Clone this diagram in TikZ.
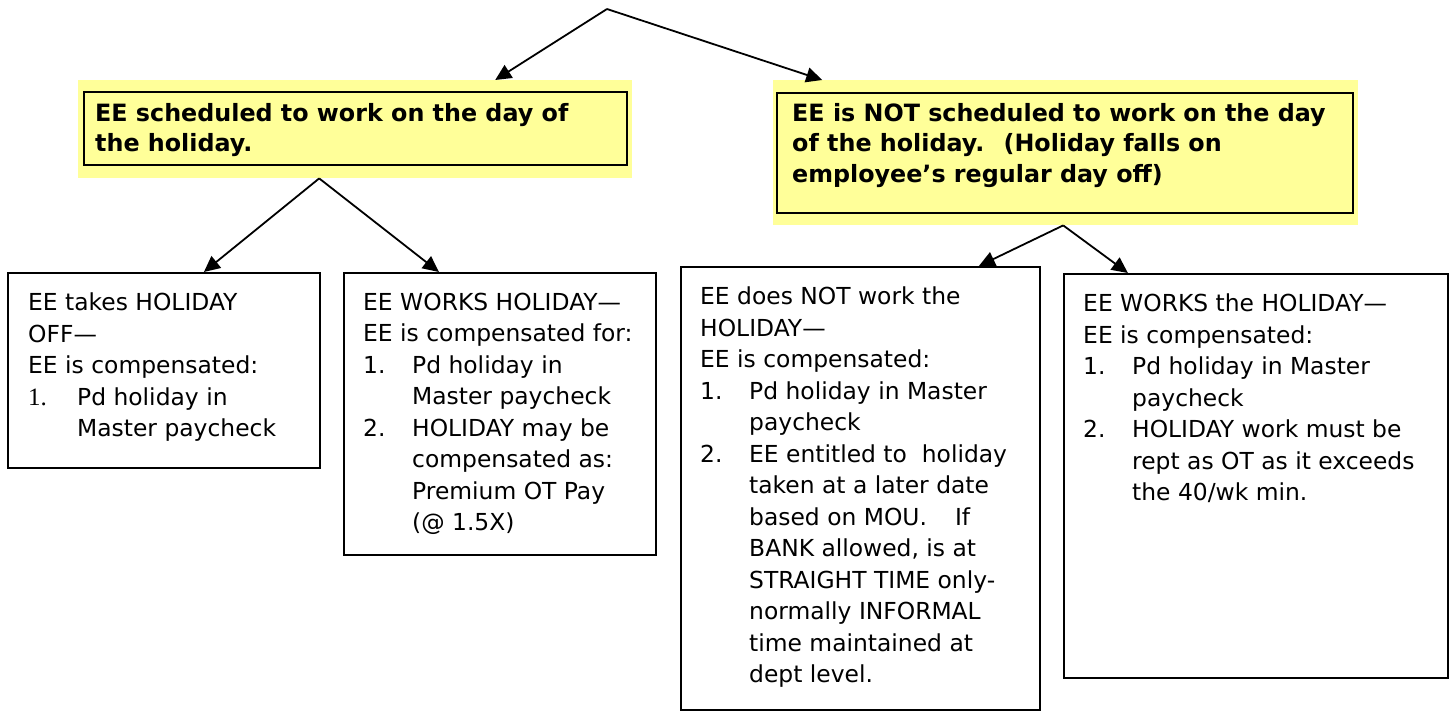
\documentclass[tikz,border=0pt]{standalone}
\usepackage{fontspec}
\setmainfont{DejaVu Sans}
\newfontfamily\numserif{Liberation Serif}
\usetikzlibrary{arrows.meta}
\definecolor{hlyellow}{HTML}{FFFF99}
\newcommand\hitem[1]{\makebox[49pt][l]{#1}}
\newcommand\hcont{\hspace*{49pt}}
\tikzset{
	hl/.style={fill=hlyellow, inner sep=0pt, anchor=north west},
	box/.style={draw, line width=1.8pt, inner sep=0pt, anchor=north west},
	boxtext/.style={anchor=north west, inner sep=0pt, align=left, font=\fontsize{23.4}{31.5}\selectfont},
	hltext/.style={anchor=north west, inner sep=0pt, align=left, font=\fontsize{23.8}{30.5}\selectfont\bfseries},
	arr/.style={line width=1.8pt, -{Triangle[length=16pt,width=15pt]}}
}

\begin{document}
\begin{tikzpicture}[x=1pt,y=1pt]
	\useasboundingbox (0,0) rectangle (1450,-710);
	\coordinate (top) at (607,-9);

	% scheduled / not scheduled
	\node[hl, minimum width=554pt, minimum height=98pt] (sched) at (78,-80) {};
	\draw[line width=2pt] ([shift={(6pt,-12pt)}]sched.north west) rectangle ([shift={(-5pt,13pt)}]sched.south east);
	\node[hltext] (schedtext) at ([shift={(17pt,-23pt)}]sched.north west)
		{EE scheduled to work on the day of\\the holiday.};

	\node[hl, minimum width=585pt, minimum height=145pt] (nosched) at (773,-80) {};
	\draw[line width=2pt] ([shift={(4pt,-13pt)}]nosched.north west) rectangle ([shift={(-5pt,12pt)}]nosched.south east);
	\node[hltext] (noschedtext) at ([shift={(19pt,-23pt)}]nosched.north west)
		{EE is NOT scheduled to work on the day\\of the holiday.~ (Holiday falls on\\employee’s regular day off)};

	% outcomes
	\node[box, minimum width=312pt, minimum height=195pt] (takeoff) at (7,-272) {};
	\node[boxtext] (takeofftext) at ([shift={(21pt,-20.7pt)}]takeoff.north west)
		{EE takes HOLIDAY\\OFF—\\EE is compensated:\\
		\hitem{{\numserif\fontsize{25}{31.5}\selectfont 1.}}Pd holiday in\\\hcont Master paycheck};

	\node[box, minimum width=312pt, minimum height=282pt] (workson) at (343,-272) {};
	\node[boxtext] (worksontext) at ([shift={(20pt,-20.7pt)}]workson.north west)
		{EE WORKS HOLIDAY—\\EE is compensated for:\\
		\hitem{1.}Pd holiday in\\\hcont Master paycheck\\
		\hitem{2.}HOLIDAY may be\\\hcont compensated as:\\
		\hcont Premium OT Pay\\\hcont (@ 1.5X)};

	\node[box, minimum width=359pt, minimum height=443pt] (notwork) at (680,-266) {};
	\node[boxtext] (notworktext) at ([shift={(20pt,-20.7pt)}]notwork.north west)
		{EE does NOT work the\\HOLIDAY—\\EE is compensated:\\
		\hitem{1.}Pd holiday in Master\\\hcont paycheck\\
		\hitem{2.}EE entitled to~ holiday\\\hcont taken at a later date\\
		\hcont based on MOU.\hspace{28pt}If\\\hcont BANK allowed, is at\\
		\hcont STRAIGHT TIME only-\\\hcont normally INFORMAL\\
		\hcont time maintained at\\\hcont dept level.};

	\node[box, minimum width=384pt, minimum height=404pt] (worksoff) at (1063,-273) {};
	\node[boxtext] (worksofftext) at ([shift={(20pt,-20.7pt)}]worksoff.north west)
		{EE WORKS the HOLIDAY—\\EE is compensated:\\
		\hitem{1.}Pd holiday in Master\\\hcont paycheck\\
		\hitem{2.}HOLIDAY work must be\\\hcont rept as OT as it exceeds\\
		\hcont the 40/wk min.};

	% arrows
	\draw[arr] (top) -- ([xshift=140pt]sched.north);
	\draw[arr] (top) -- ([xshift=-243.5pt]nosched.north);
	\coordinate (schedfoot) at ([xshift=-36pt]sched.south);
	\draw[arr] (schedfoot) -- ([xshift=40pt]takeoff.north);
	\draw[arr] (schedfoot) -- ([xshift=-61pt]workson.north);
	\coordinate (noschedfoot) at ([xshift=-2.5pt]nosched.south);
	\draw[arr] (noschedfoot) -- ([xshift=118.5pt]notwork.north);
	\draw[arr] (noschedfoot) -- ([xshift=-128pt]worksoff.north);
\end{tikzpicture}
\end{document}
